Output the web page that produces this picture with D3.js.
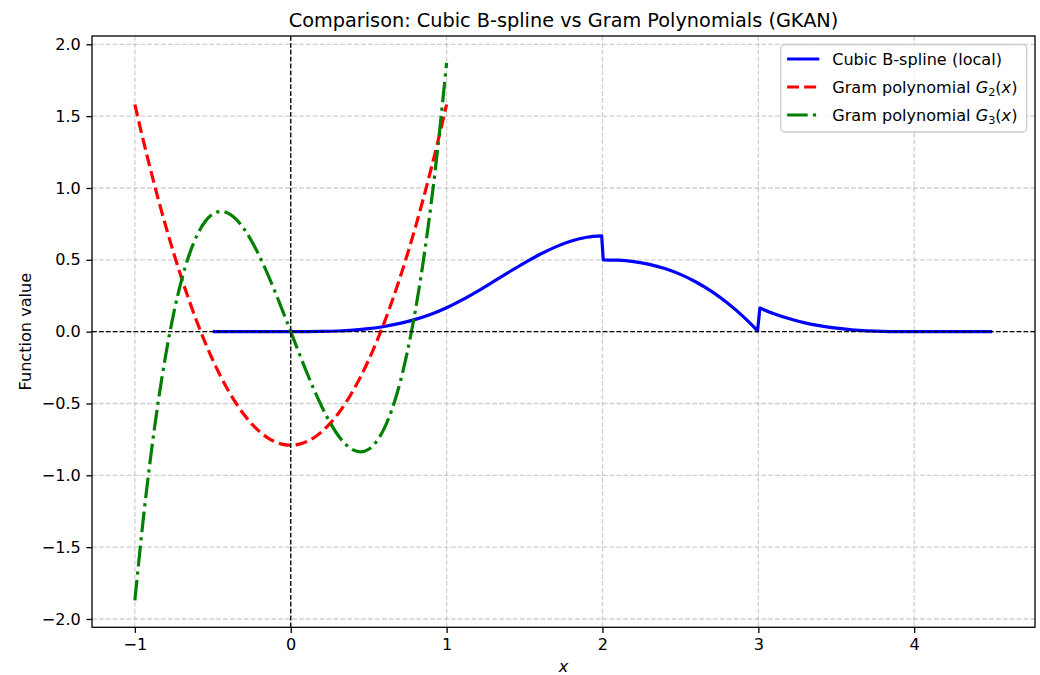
<!DOCTYPE html>
<html>
<head>
<meta charset="utf-8">
<script src="https://cdn.jsdelivr.net/npm/d3@7"></script>
<style>
  html, body { margin: 0; padding: 0; background: #fff; }
  svg { display: block; font-family: "DejaVu Sans", sans-serif; }
</style>
</head>
<body>
<svg id="chart" width="1040" height="675"></svg>
<script>
// Sample positions for the Gram polynomials on [-1, 1]
const gramX = [-1, -0.95, -0.9, -0.85, -0.8, -0.75, -0.7, -0.65, -0.6, -0.55, -0.5,
  -0.45, -0.4, -0.35, -0.3, -0.25, -0.2, -0.15, -0.1, -0.05, 0,
  0.05, 0.1, 0.15, 0.2, 0.25, 0.3, 0.35, 0.4, 0.45, 0.5,
  0.55, 0.6, 0.65, 0.7, 0.75, 0.8, 0.85, 0.9, 0.95, 1];

const gram2 = [1.5811, 1.3499, 1.1305, 0.9230, 0.7273, 0.5435, 0.3716, 0.2115, 0.0633, -0.0731, -0.1976,
  -0.3103, -0.4111, -0.5000, -0.5771, -0.6423, -0.6957, -0.7372, -0.7669, -0.7846, -0.7906,
  -0.7846, -0.7669, -0.7372, -0.6957, -0.6423, -0.5771, -0.5000, -0.4111, -0.3103, -0.1976,
  -0.0731, 0.0633, 0.2115, 0.3716, 0.5435, 0.7273, 0.9230, 1.1305, 1.3499, 1.5811];

const gram3 = [-1.8708, -1.3441, -0.8840, -0.4870, -0.1497, 0.1315, 0.3601, 0.5396, 0.6735, 0.7653, 0.8185,
  0.8366, 0.8232, 0.7817, 0.7156, 0.6285, 0.5238, 0.4052, 0.2759, 0.1397, 0,
  -0.1397, -0.2759, -0.4052, -0.5238, -0.6285, -0.7156, -0.7817, -0.8232, -0.8366, -0.8185,
  -0.7653, -0.6735, -0.5396, -0.3601, -0.1315, 0.1497, 0.4870, 0.8840, 1.3441, 1.8708];

// Local cubic B-spline samples on [-0.5, 4.5]
const splineX = [-0.5, -0.25, 0, 0.1, 0.2, 0.3, 0.4, 0.5, 0.6, 0.7, 0.8, 0.9, 1.0,
  1.1, 1.2, 1.3, 1.4, 1.5, 1.6, 1.7, 1.8, 1.9, 1.995,
  2.005, 2.1, 2.2, 2.3, 2.4, 2.5, 2.6, 2.7, 2.8, 2.9, 2.95, 2.995,
  3.01, 3.1, 3.2, 3.3, 3.4, 3.5, 3.6, 3.7, 3.8, 3.9, 4.0, 4.25, 4.5];

const splineY = [0, 0, 0, 0.0002, 0.0013, 0.0045, 0.0107, 0.0208, 0.036, 0.0572, 0.0853, 0.1215, 0.1667,
  0.2212, 0.2827, 0.3482, 0.4147, 0.4792, 0.5387, 0.5902, 0.6307, 0.6572, 0.6667,
  0.5, 0.4975, 0.4876, 0.4686, 0.4392, 0.3985, 0.3455, 0.280, 0.2005, 0.1077, 0.0556, 0.0058,
  0.164, 0.125, 0.09, 0.061, 0.04, 0.024, 0.013, 0.006, 0.002, 0.0004, 0, 0, 0];

// knots where the spline pieces meet (the jumps are joined with straight steps)
const splineBreaks = [2, 3];

const xTicks = [-1, 0, 1, 2, 3, 4];
const yTicks = [-2.0, -1.5, -1.0, -0.5, 0.0, 0.5, 1.0, 1.5, 2.0];

const titleText = "Comparison: Cubic B-spline vs Gram Polynomials (GKAN)";
const xLabel = "x";
const yLabel = "Function value";

const series = [
  { name: "spline", xs: splineX, ys: splineY, color: "#0000ff", dash: null, curve: d3.curveMonotoneX, breaks: splineBreaks },
  { name: "g2", xs: gramX, ys: gram2, color: "#ff0000", dash: "11.9,5.2", curve: d3.curveMonotoneX, breaks: [] },
  { name: "g3", xs: gramX, ys: gram3, color: "#008000", dash: "20.6,5.2,3.2,5.2", curve: d3.curveNatural, breaks: [] }
];

const svg = d3.select("#chart");
const pLeft = 92, pRight = 1035, pTop = 36, pBottom = 627.3;

const x = d3.scaleLinear().domain([-1.275, 4.775]).range([pLeft, pRight]);
const y = d3.scaleLinear().domain([-2.0579, 2.0579]).range([pBottom, pTop]);

const FONT = 16.1;

// grid
const grid = svg.append("g");
grid.selectAll("line.gx").data(xTicks).join("line").attr("class", "gx")
  .attr("x1", d => x(d)).attr("x2", d => x(d))
  .attr("y1", pTop).attr("y2", pBottom);
grid.selectAll("line.gy").data(yTicks).join("line").attr("class", "gy")
  .attr("x1", pLeft).attr("x2", pRight)
  .attr("y1", d => y(d)).attr("y2", d => y(d));
grid.selectAll("line")
  .attr("stroke", "#b0b0b0").attr("stroke-opacity", 0.6)
  .attr("stroke-width", 1.3).attr("stroke-dasharray", "4.8,2.1");

svg.append("clipPath").attr("id", "plotclip")
  .append("rect").attr("x", pLeft).attr("y", pTop)
  .attr("width", pRight - pLeft).attr("height", pBottom - pTop);

const plot = svg.append("g").attr("clip-path", "url(#plotclip)");

series.forEach(s => {
  const pts = s.xs.map((v, i) => [v, s.ys[i]]);
  // split at the knots so every smooth piece is interpolated on its own
  const pieces = [];
  let cur = [];
  let bi = 0;
  pts.forEach(p => {
    if (bi < s.breaks.length && p[0] > s.breaks[bi]) {
      pieces.push(cur); cur = []; bi++;
    }
    cur.push(p);
  });
  pieces.push(cur);
  const line = d3.line().x(d => x(d[0])).y(d => y(d[1])).curve(s.curve);
  const d = pieces.map((pc, i) => {
    const seg = line(pc);
    return i === 0 ? seg : seg.replace(/^M/, "L");
  }).join("");
  plot.append("path")
    .attr("d", d)
    .attr("fill", "none")
    .attr("stroke", s.color)
    .attr("stroke-width", 3.2)
    .attr("stroke-dasharray", s.dash)
    .attr("stroke-linejoin", "round");
});

// reference lines through the origin
plot.append("line")
  .attr("x1", pLeft).attr("x2", pRight).attr("y1", y(0)).attr("y2", y(0))
  .attr("stroke", "#000").attr("stroke-width", 1.3).attr("stroke-dasharray", "4.8,2.1");
plot.append("line")
  .attr("x1", x(0)).attr("x2", x(0)).attr("y1", pTop).attr("y2", pBottom)
  .attr("stroke", "#000").attr("stroke-width", 1.3).attr("stroke-dasharray", "4.8,2.1");

// axes
const xAxis = d3.axisBottom(x).tickValues(xTicks).tickFormat(d3.format("d"))
  .tickSize(5.6).tickPadding(5.6);
const yAxis = d3.axisLeft(y).tickValues(yTicks).tickFormat(d3.format(".1f"))
  .tickSize(5.6).tickPadding(5.6);

const gx = svg.append("g").attr("transform", `translate(0,${pBottom})`).call(xAxis);
const gy = svg.append("g").attr("transform", `translate(${pLeft},0)`).call(yAxis);
[gx, gy].forEach(g => {
  g.select(".domain").remove();
  g.selectAll(".tick line").attr("stroke", "#000").attr("stroke-width", 1.3);
  g.selectAll(".tick text").attr("fill", "#000")
    .style("font-family", "DejaVu Sans").style("font-size", FONT + "px");
});

// frame
svg.append("rect")
  .attr("x", pLeft).attr("y", pTop).attr("width", pRight - pLeft).attr("height", pBottom - pTop)
  .attr("fill", "none").attr("stroke", "#000").attr("stroke-width", 1.3);

// title and axis labels
svg.append("text")
  .attr("x", (pLeft + pRight) / 2).attr("y", 26.5)
  .attr("text-anchor", "middle")
  .style("font-size", "19.3px")
  .text(titleText);

svg.append("text")
  .attr("x", (pLeft + pRight) / 2).attr("y", 672)
  .attr("text-anchor", "middle")
  .style("font-size", FONT + "px").style("font-style", "italic")
  .text(xLabel);

svg.append("text")
  .attr("transform", `translate(31,${(pTop + pBottom) / 2}) rotate(-90)`)
  .attr("text-anchor", "middle")
  .style("font-size", FONT + "px")
  .text(yLabel);

// legend
const legend = svg.append("g");
const lx = 780.7, ly = 44.5, lw = 246, lh = 87.5;
legend.append("rect")
  .attr("x", lx).attr("y", ly).attr("width", lw).attr("height", lh)
  .attr("rx", 4).attr("ry", 4)
  .attr("fill", "#fff").attr("fill-opacity", 0.8)
  .attr("stroke", "#cccccc").attr("stroke-width", 1.3);

const legendRows = [
  { s: series[0], y: 59, parts: [["Cubic B-spline (local)", null]] },
  { s: series[1], y: 87, parts: [["Gram polynomial ", null], ["G", "it"], ["2", "sub"], ["(", null], ["x", "it"], [")", null]] },
  { s: series[2], y: 115, parts: [["Gram polynomial ", null], ["G", "it"], ["3", "sub"], ["(", null], ["x", "it"], [")", null]] }
];

legendRows.forEach(r => {
  legend.append("line")
    .attr("x1", lx + 6.4).attr("x2", lx + 6.4 + 32.2)
    .attr("y1", r.y).attr("y2", r.y)
    .attr("stroke", r.s.color).attr("stroke-width", 3.2)
    .attr("stroke-dasharray", r.s.dash);
  const t = legend.append("text")
    .attr("x", lx + 6.4 + 32.2 + 12.9).attr("y", r.y + 5.8)
    .style("font-size", FONT + "px");
  r.parts.forEach(([txt, kind]) => {
    const sp = t.append("tspan").text(txt);
    if (kind === "it") sp.style("font-style", "italic");
    if (kind === "sub") sp.style("font-size", "11.3px").attr("dy", 3.2);
    if (kind === null && txt === "(") sp.attr("dy", -3.2);
  });
});
</script>
</body>
</html>
